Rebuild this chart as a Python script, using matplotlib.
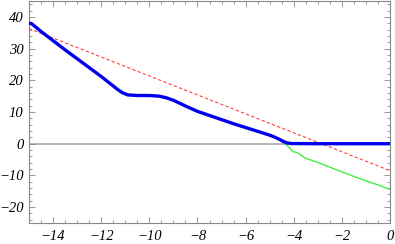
import matplotlib.pyplot as plt
from matplotlib.ticker import MultipleLocator, FuncFormatter
import numpy as np

# values
blue_x = [-15, -14.9, -14.5, -14, -13.5, -13, -12.5, -12, -11.6, -11.3, -11.1, -10.9, -10.5,
          -10, -9.6, -9.3, -9, -8.5, -8, -7.5, -7, -6.5, -6, -5.5, -5, -4.8, -4.6, -4.45,
          -4.3, -4.1, -3, -2, -1, 0]
blue_y = [38, 37.9, 35.4, 32.5, 29.6, 26.8, 24.0, 21.2, 18.8, 17.0, 16.0, 15.4, 15.2,
          15.2, 15.0, 14.5, 13.7, 11.9, 10.2, 8.9, 7.6, 6.3, 5.1, 3.9, 2.7, 2.1, 1.4, 0.8,
          0.3, 0.05, 0, 0, 0, 0]

green_x = [-4.7, -4.5, -4.3, -4.15, -4.05, -3.9, -3.8, -3.65, -3.5, -3.0, -2.5, -2.0,
           -1.5, -1.0, -0.5, 0]
green_y = [1.7, 0.7, -0.4, -1.5, -2.5, -2.7, -3.0, -3.9, -4.6, -5.9, -7.4, -8.9,
           -10.3, -11.7, -13.0, -14.4]

red_x = [-15, 0]
red_y = [36.3, -8.5]

plt.rcParams['font.family'] = 'Liberation Serif'
plt.rcParams['font.style'] = 'italic'

fig = plt.figure(figsize=(3.95, 2.44), dpi=100)
ax = fig.add_axes([29 / 395, 21 / 244, 361 / 395, 222 / 244])

ax.axhline(0, color='#aaaaaa', lw=1.2, zorder=1)
ax.plot(red_x, red_y, color='#ff4040', lw=0.8, dashes=(3, 2), zorder=2)
ax.plot(green_x, green_y, color='#33ee33', lw=0.9, zorder=2)
ax.plot(blue_x, blue_y, color='#0000ee', lw=2.4, zorder=3)

ax.set_xlim(-15, 0)
ax.set_ylim(-25, 45)

ax.xaxis.set_major_locator(MultipleLocator(2))
ax.xaxis.set_minor_locator(MultipleLocator(0.5))
ax.yaxis.set_major_locator(MultipleLocator(10))
ax.yaxis.set_minor_locator(MultipleLocator(2))


def fmt(v, pos):
    v = int(round(v))
    if v < 0:
        return '\u2212' + str(-v)
    return str(v)


ax.xaxis.set_major_formatter(FuncFormatter(fmt))
ax.yaxis.set_major_formatter(FuncFormatter(fmt))

ax.tick_params(which='both', direction='in', top=True, right=True, color='#888888',
               labelsize=10.5, width=0.6)
ax.tick_params(which='major', length=4)
ax.tick_params(which='minor', length=2)
ax.tick_params(axis='x', pad=5)
ax.tick_params(axis='y', pad=4)

for s in ax.spines.values():
    s.set_color('#888888')
    s.set_linewidth(0.8)

fig.savefig('out.png', dpi=100)
